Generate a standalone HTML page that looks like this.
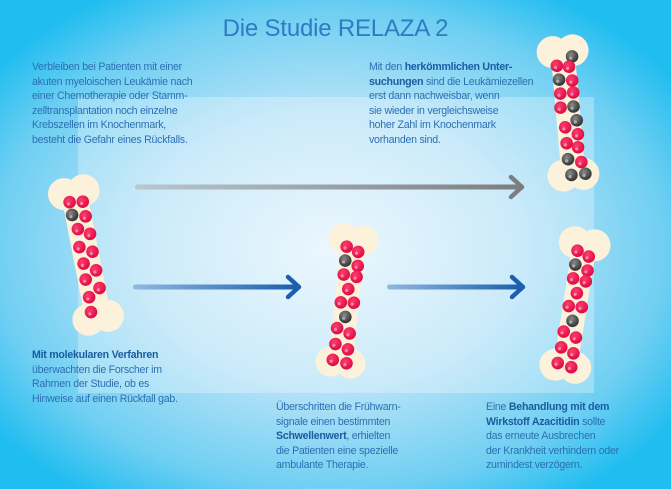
<!DOCTYPE html>
<html><head><meta charset="utf-8"><style>
html,body{margin:0;padding:0}
body{width:671px;height:489px;position:relative;overflow:hidden;
background:radial-gradient(ellipse 420px 300px at 330px 250px,#e4f4fd 0%,#b8e3f8 45%,#6fcff2 80%,#20bdf0 100%);
font-family:"Liberation Sans",sans-serif;}
.panel{position:absolute;left:78px;top:97px;width:516px;height:296px;background:rgba(255,255,255,0.28)}
h1{position:absolute;left:0;width:671px;top:15px;margin:0;text-align:center;font-weight:normal;font-size:24px;color:#2f7bc2;letter-spacing:-0.2px}
.t{position:absolute;font-size:10.6px;line-height:14.6px;color:#2c6fb2;letter-spacing:-0.25px;white-space:nowrap}
.t b{color:#1a5c9f}
svg{position:absolute;left:0;top:0}
</style></head><body>
<div class="panel"></div>
<h1>Die Studie RELAZA 2</h1>
<div class="t" style="left:32px;top:60px">Verbleiben bei Patienten mit einer<br>akuten myeloischen Leukämie nach<br>einer Chemotherapie oder Stamm-<br>zelltransplantation noch einzelne<br>Krebszellen im Knochenmark,<br>besteht die Gefahr eines Rückfalls.</div>
<div class="t" style="left:369px;top:60px">Mit den <b>herkömmlichen Unter-<br>suchungen</b> sind die Leukämiezellen<br>erst dann nachweisbar, wenn<br>sie wieder in vergleichsweise<br>hoher Zahl im Knochenmark<br>vorhanden sind.</div>
<div class="t" style="left:32px;top:348px"><b>Mit molekularen Verfahren</b><br>überwachten die Forscher im<br>Rahmen der Studie, ob es<br>Hinweise auf einen Rückfall gab.</div>
<div class="t" style="left:276px;top:400px">Überschritten die Frühwarn-<br>signale einen bestimmten<br><b>Schwellenwert</b>, erhielten<br>die Patienten eine spezielle<br>ambulante Therapie.</div>
<div class="t" style="left:486px;top:400px">Eine <b>Behandlung mit dem<br>Wirkstoff Azacitidin</b> sollte<br>das erneute Ausbrechen<br>der Krankheit verhindern oder<br>zumindest verzögern.</div>
<svg width="671" height="489" viewBox="0 0 671 489">
<defs>
<radialGradient id="gr" cx="0.4" cy="0.35" r="0.7"><stop offset="0" stop-color="#ff3d70"/><stop offset="1" stop-color="#d8083f"/></radialGradient>
<radialGradient id="gd" cx="0.4" cy="0.35" r="0.7"><stop offset="0" stop-color="#8a8a8a"/><stop offset="1" stop-color="#2a2a2a"/></radialGradient>
<g id="r"><circle r="6.3" fill="url(#gr)"/><circle cx="-1.5" cy="1.5" r="1.6" fill="#f58aa8"/></g>
<g id="d"><circle r="6.3" fill="url(#gd)"/><circle cx="-1.5" cy="1.5" r="1.6" fill="#aaa"/></g>
<linearGradient id="ga" gradientUnits="userSpaceOnUse" x1="135" y1="0" x2="520" y2="0"><stop offset="0" stop-color="#b9c7cf"/><stop offset="1" stop-color="#7d7d80"/></linearGradient>
<linearGradient id="gb" gradientUnits="userSpaceOnUse" x1="135" y1="0" x2="296" y2="0"><stop offset="0" stop-color="#8fb7df"/><stop offset="1" stop-color="#1b5fae"/></linearGradient>
<linearGradient id="gc" gradientUnits="userSpaceOnUse" x1="389" y1="0" x2="520" y2="0"><stop offset="0" stop-color="#8fb7df"/><stop offset="1" stop-color="#1b5fae"/></linearGradient>
</defs>
<rect x="135" y="184.5" width="385" height="5" rx="2.5" fill="url(#ga)"/>
<polyline points="511,177 522,187 511,197" fill="none" stroke="#7d7d80" stroke-width="4.5" stroke-linecap="round" stroke-linejoin="round"/>
<rect x="133" y="284.5" width="164" height="5" rx="2.5" fill="url(#gb)"/>
<polyline points="288,277 299,287 288,297" fill="none" stroke="#1b5fae" stroke-width="4.5" stroke-linecap="round" stroke-linejoin="round"/>
<rect x="387" y="284.5" width="134" height="5" rx="2.5" fill="url(#gc)"/>
<polyline points="512,277 523,287 512,297" fill="none" stroke="#1b5fae" stroke-width="4.5" stroke-linecap="round" stroke-linejoin="round"/>

<g transform="translate(86,255) rotate(-11)" fill="#fcf1da">
<rect x="-13" y="-66" width="26" height="132"/>
<circle cx="-10" cy="-64" r="16"/><circle cx="10" cy="-64" r="16"/>
<circle cx="-10" cy="64" r="16"/><circle cx="10" cy="64" r="16"/>
<use href="#r" x="-6" y="-55"/><use href="#r" x="7" y="-53"/>
<use href="#d" x="-6" y="-42"/><use href="#r" x="7" y="-38"/>
<use href="#r" x="-3" y="-27"/><use href="#r" x="8" y="-20"/>
<use href="#r" x="-5" y="-9"/><use href="#r" x="7" y="-2"/>
<use href="#r" x="-4" y="8"/><use href="#r" x="7" y="17"/>
<use href="#r" x="-5" y="24"/><use href="#r" x="7" y="35"/>
<use href="#r" x="-5" y="42"/><use href="#r" x="-6" y="57"/>
</g>
<g transform="translate(347,301) rotate(6)" fill="#fcf1da">
<rect x="-12" y="-62" width="24" height="124"/>
<circle cx="-10" cy="-62" r="15"/><circle cx="10" cy="-62" r="15"/>
<circle cx="-10" cy="62" r="15"/><circle cx="10" cy="62" r="15"/>
<use href="#r" x="-6" y="-54"/><use href="#r" x="6" y="-50"/>
<use href="#d" x="-6" y="-40"/><use href="#r" x="7" y="-36"/>
<use href="#r" x="-6" y="-26"/><use href="#r" x="7" y="-25"/>
<use href="#r" x="0" y="-12"/><use href="#r" x="-6" y="2"/>
<use href="#r" x="7" y="1"/><use href="#d" x="0" y="16"/>
<use href="#r" x="-7" y="28"/><use href="#r" x="6" y="32"/>
<use href="#r" x="-7" y="44"/><use href="#r" x="6" y="48"/>
<use href="#r" x="-8" y="60"/><use href="#r" x="6" y="62"/>
</g>
<g transform="translate(568,113) rotate(-5)" fill="#fcf1da">
<rect x="-12" y="-62" width="24" height="124"/>
<circle cx="-10" cy="-62" r="16"/><circle cx="10" cy="-62" r="16"/>
<circle cx="-10" cy="62" r="16"/><circle cx="10" cy="62" r="16"/>
<use href="#d" x="9" y="-56"/><use href="#r" x="-7" y="-48"/><use href="#r" x="5" y="-46"/>
<use href="#d" x="-6" y="-34"/><use href="#r" x="7" y="-32"/>
<use href="#r" x="-6" y="-20"/><use href="#r" x="7" y="-20"/>
<use href="#r" x="-7" y="-6"/><use href="#d" x="6" y="-6"/>
<use href="#d" x="8" y="8"/><use href="#r" x="-4" y="14"/>
<use href="#r" x="8" y="22"/><use href="#r" x="-4" y="30"/><use href="#r" x="7" y="35"/>
<use href="#d" x="-4" y="46"/><use href="#r" x="9" y="50"/>
<use href="#d" x="-2" y="62"/><use href="#d" x="12" y="62"/>
</g>
<g transform="translate(575,305) rotate(9)" fill="#fcf1da">
<rect x="-12" y="-62" width="24" height="124"/>
<circle cx="-10" cy="-62" r="16"/><circle cx="10" cy="-62" r="16"/>
<circle cx="-10" cy="62" r="16"/><circle cx="10" cy="62" r="16"/>
<use href="#r" x="-6" y="-54"/><use href="#r" x="6" y="-50"/>
<use href="#d" x="-6" y="-40"/><use href="#r" x="7" y="-36"/>
<use href="#r" x="-6" y="-26"/><use href="#r" x="7" y="-25"/>
<use href="#r" x="0" y="-12"/><use href="#r" x="-6" y="2"/>
<use href="#r" x="7" y="1"/><use href="#d" x="0" y="16"/>
<use href="#r" x="-7" y="28"/><use href="#r" x="6" y="32"/>
<use href="#r" x="-7" y="44"/><use href="#r" x="6" y="48"/>
<use href="#r" x="-8" y="60"/><use href="#r" x="6" y="62"/>
</g>
</svg>
</body></html>
